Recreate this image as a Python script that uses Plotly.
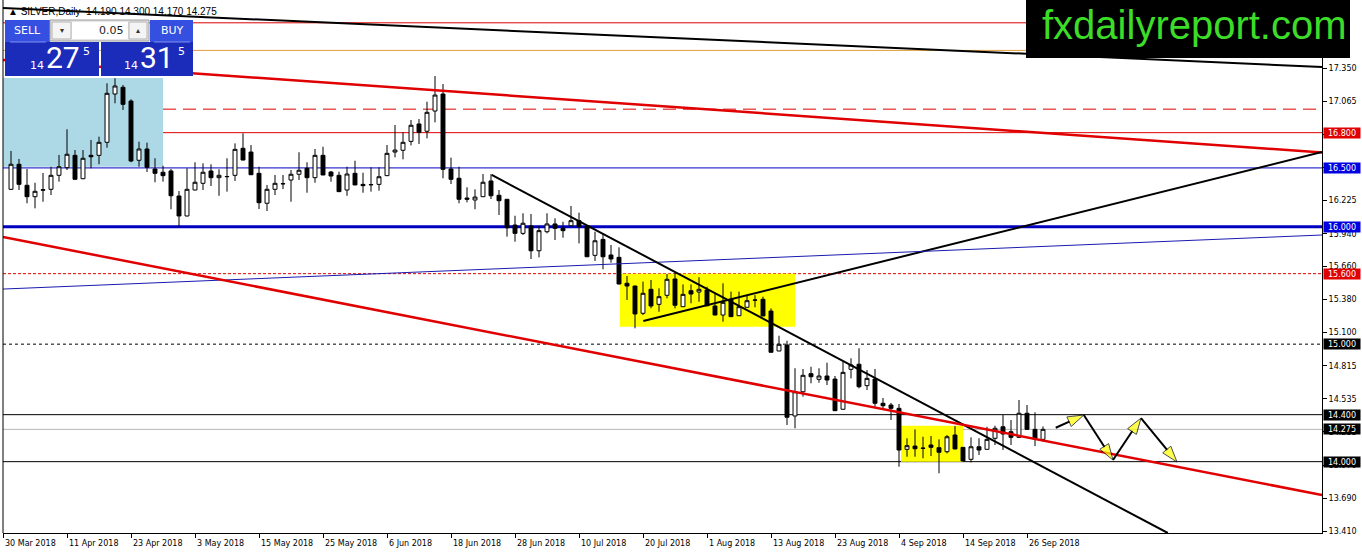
import plotly.graph_objects as go

# daily SILVER candles, one per weekday from 2 Apr 2018 to 28 Sep 2018
opens = [16.318, 16.531, 16.352, 16.255, 16.310, 16.318, 16.437, 16.502, 16.607, 16.408,
         16.607, 16.607, 16.718, 17.129, 17.186, 17.069, 16.565, 16.661, 16.491, 16.463,
         16.474, 16.261, 16.091, 16.312, 16.369, 16.474, 16.417, 16.425, 16.437, 16.667,
         16.635, 16.454, 16.199, 16.318, 16.364, 16.397, 16.446, 16.497, 16.417, 16.607,
         16.465, 16.437, 16.312, 16.454, 16.360, 16.356, 16.360, 16.434, 16.635, 16.650,
         16.726, 16.874, 16.812, 16.984, 17.129, 16.491, 16.412, 16.244, 16.227, 16.255,
         16.389, 16.267, 16.233, 16.014, 15.943, 16.006, 15.795, 15.957, 16.023, 15.986,
         16.008, 16.051, 16.006, 15.756, 15.892, 15.759, 15.739, 15.518, 15.495, 15.263,
         15.467, 15.339, 15.416, 15.555, 15.319, 15.455, 15.444, 15.461, 15.325, 15.248,
         15.382, 15.242, 15.314, 15.374, 15.382, 15.282, 14.942, 14.993, 14.389, 14.595,
         14.749, 14.701, 14.729, 14.703, 14.446, 14.786, 14.829, 14.647, 14.703, 14.497,
         14.482, 14.454, 14.105, 14.133, 14.113, 14.142, 14.119, 14.085, 14.227, 14.122,
         14.020, 14.127, 14.105, 14.199, 14.297, 14.255, 14.207, 14.412, 14.275, 14.190]
highs = [16.644, 16.576, 16.491, 16.374, 16.457, 16.510, 16.610, 16.829, 16.652, 16.652,
         16.738, 16.766, 17.220, 17.263, 17.206, 17.084, 16.723, 16.715, 16.582, 16.519,
         16.491, 16.303, 16.497, 16.548, 16.539, 16.531, 16.488, 16.582, 16.709, 16.795,
         16.695, 16.510, 16.355, 16.440, 16.440, 16.482, 16.633, 16.548, 16.661, 16.680,
         16.474, 16.468, 16.510, 16.561, 16.459, 16.505, 16.505, 16.695, 16.865, 16.803,
         16.908, 16.916, 17.063, 17.282, 17.214, 16.587, 16.510, 16.335, 16.318, 16.448,
         16.448, 16.312, 16.235, 16.093, 16.114, 16.108, 16.008, 16.114, 16.071, 16.042,
         16.176, 16.119, 16.014, 15.957, 15.938, 15.844, 15.824, 15.580, 15.497, 15.532,
         15.546, 15.475, 15.597, 15.608, 15.509, 15.509, 15.569, 15.489, 15.433, 15.518,
         15.447, 15.447, 15.418, 15.418, 15.404, 15.305, 15.072, 15.029, 14.795, 14.789,
         14.808, 14.795, 14.842, 14.729, 14.851, 14.880, 14.965, 14.780, 14.789, 14.542,
         14.500, 14.491, 14.199, 14.275, 14.212, 14.218, 14.190, 14.227, 14.303, 14.125,
         14.207, 14.199, 14.297, 14.306, 14.397, 14.355, 14.525, 14.482, 14.420, 14.300]
lows = [16.312, 16.312, 16.199, 16.156, 16.212, 16.269, 16.383, 16.482, 16.400, 16.405,
        16.497, 16.531, 16.672, 17.050, 16.993, 16.548, 16.510, 16.465, 16.378, 16.383,
        16.148, 16.000, 16.088, 16.310, 16.312, 16.346, 16.263, 16.298, 16.389, 16.565,
        16.440, 16.150, 16.133, 16.269, 16.320, 16.212, 16.397, 16.289, 16.374, 16.438,
        16.383, 16.296, 16.263, 16.353, 16.289, 16.298, 16.306, 16.431, 16.590, 16.573,
        16.692, 16.704, 16.752, 16.888, 16.412, 16.363, 16.199, 16.207, 16.148, 16.252,
        16.235, 16.099, 15.915, 15.872, 15.929, 15.725, 15.739, 15.943, 15.886, 15.906,
        16.006, 15.858, 15.742, 15.708, 15.637, 15.693, 15.510, 15.376, 15.135, 15.248,
        15.305, 15.276, 15.390, 15.305, 15.317, 15.348, 15.361, 15.325, 15.246, 15.191,
        15.232, 15.240, 15.312, 15.314, 15.238, 14.929, 14.940, 14.312, 14.284, 14.553,
        14.667, 14.672, 14.652, 14.432, 14.444, 14.709, 14.624, 14.610, 14.468, 14.454,
        14.355, 13.957, 14.042, 14.042, 14.029, 14.048, 13.901, 14.071, 14.106, 14.004,
        13.994, 14.057, 14.103, 14.142, 14.099, 14.142, 14.205, 14.273, 14.133, 14.170]
closes = [16.531, 16.360, 16.255, 16.301, 16.314, 16.437, 16.510, 16.616, 16.403, 16.582,
          16.595, 16.718, 17.135, 17.197, 17.041, 16.559, 16.661, 16.505, 16.454, 16.434,
          16.263, 16.091, 16.318, 16.378, 16.463, 16.417, 16.437, 16.427, 16.658, 16.567,
          16.442, 16.204, 16.318, 16.369, 16.366, 16.446, 16.480, 16.417, 16.607, 16.440,
          16.431, 16.298, 16.448, 16.355, 16.349, 16.358, 16.425, 16.624, 16.652, 16.718,
          16.863, 16.803, 16.973, 17.120, 16.488, 16.403, 16.233, 16.233, 16.252, 16.378,
          16.263, 16.221, 15.991, 15.943, 16.029, 15.795, 15.966, 16.023, 15.986, 15.966,
          16.051, 16.000, 15.744, 15.880, 15.744, 15.725, 15.512, 15.495, 15.257, 15.433,
          15.325, 15.404, 15.552, 15.331, 15.424, 15.427, 15.467, 15.327, 15.248, 15.356,
          15.234, 15.319, 15.370, 15.376, 15.240, 14.931, 14.999, 14.378, 14.595, 14.735,
          14.723, 14.729, 14.695, 14.434, 14.760, 14.823, 14.638, 14.709, 14.497, 14.476,
          14.454, 14.099, 14.136, 14.110, 14.115, 14.122, 14.080, 14.212, 14.108, 14.006,
          14.127, 14.099, 14.190, 14.284, 14.236, 14.207, 14.412, 14.275, 14.190, 14.275]

# time scale: bar index of each date label (bar -1 is 30 Mar, just off the left edge)
date_ticks = [-1, 7, 15, 23, 31, 39, 47, 55, 63, 71, 79, 87, 95, 103, 111, 119, 127]
date_labels = ["30 Mar 2018", "11 Apr 2018", "23 Apr 2018", "3 May 2018", "15 May 2018",
               "25 May 2018", "6 Jun 2018", "18 Jun 2018", "28 Jun 2018", "10 Jul 2018",
               "20 Jul 2018", "1 Aug 2018", "13 Aug 2018", "23 Aug 2018", "4 Sep 2018",
               "14 Sep 2018", "26 Sep 2018"]

# price scale
price_ticks = [17.350, 17.065, 16.785, 16.505, 16.225, 15.940, 15.660, 15.380, 15.100,
               14.815, 14.535, 14.255, 13.970, 13.690, 13.410]

# horizontal levels and the ones that carry a price tag on the scale
levels = [17.735, 17.500, 17.000, 16.800, 16.500, 16.000, 15.600, 15.000, 14.400, 14.275, 14.000]
tagged_levels = [16.800, 16.500, 16.000, 15.600, 15.000, 14.400, 14.275, 14.000]

# trend lines: (bar, price) -> (bar, price)
trend_start_bars = [-1.375, -1, 79.04, -1, 60.09, -1]
trend_start_prices = [17.861, 17.419, 15.197, 15.469, 16.440, 15.912]
trend_end_bars = [163.875, 163.875, 163.875, 163.875, 144.6, 163.875]
trend_end_prices = [17.359, 16.631, 16.635, 15.929, 13.393, 13.716]

# highlighted zones: bar from/to, price low/high
zone_bar_from = [-1, 76.1, 111.25]
zone_bar_to = [19, 98, 119]
zone_price_low = [16.510, 15.149, 14.000]
zone_price_high = [17.265, 15.600, 14.306]

# projected zig-zag path drawn with arrows
arrow_bars = [130.59, 134.1, 137.75, 141.25, 145.75]
arrow_prices = [14.289, 14.397, 14.014, 14.371, 13.997]

W, H = 1362, 554
L_M, R_M, T_M, B_M = 3, 40, 0, 21
PW = W - L_M - R_M
PH = H - T_M - B_M
FONT = "DejaVu Sans"


# screen pixel -> paper coordinate
def px(x):
    return (x - L_M) / PW


def py(y):
    return 1 - (y - T_M) / PH


fig = go.Figure()

fig.add_trace(go.Candlestick(x=list(range(len(closes))), open=opens, high=highs, low=lows, close=closes,
                             increasing=dict(line=dict(color="black", width=1), fillcolor="white"),
                             decreasing=dict(line=dict(color="black", width=1), fillcolor="black"),
                             whiskerwidth=0, showlegend=False, hoverinfo="skip"))

trend_styles = [("black", 2), ("#E00000", 2.5), ("black", 2), ("#1A1AB0", 1), ("black", 2), ("#E00000", 2.5)]
for i, (col, wd) in enumerate(trend_styles):
    fig.add_trace(go.Scatter(x=[trend_start_bars[i], trend_end_bars[i]],
                             y=[trend_start_prices[i], trend_end_prices[i]],
                             mode="lines", line=dict(color=col, width=wd),
                             hoverinfo="skip", showlegend=False))

fig.add_trace(go.Scatter(x=arrow_bars, y=arrow_prices, mode="lines+markers",
                         line=dict(color="black", width=2),
                         marker=dict(symbol="arrow", size=[0, 17, 17, 17, 17], color="#FFFF00",
                                     angleref="previous", line=dict(color="black", width=1)),
                         hoverinfo="skip", showlegend=False))

shapes = []
zone_colors = ["#ADD8E6", "#FFFF00", "#FFFF00"]
for i in range(len(zone_colors)):
    shapes.append(dict(type="rect", xref="x", yref="y", x0=zone_bar_from[i], x1=zone_bar_to[i],
                       y0=zone_price_low[i], y1=zone_price_high[i], fillcolor=zone_colors[i],
                       line=dict(width=0), layer="below"))

level_styles = {
    17.735: ("#E00000", 1, "solid"),
    17.500: ("#E0A040", 1, "solid"),
    17.000: ("#E00000", 1, "13px,7px"),
    16.800: ("#E00000", 1, "solid"),
    16.500: ("#0000C0", 1, "solid"),
    16.000: ("#0000C0", 3, "solid"),
    15.600: ("#E00000", 1, "3px,2px"),
    15.000: ("black", 1, "3px,3px"),
    14.400: ("black", 1, "solid"),
    14.275: ("#B8B8B8", 1, "solid"),
    14.000: ("black", 1, "solid"),
}
for lv in levels:
    col, wd, dash = level_styles[lv]
    shapes.append(dict(type="line", xref="paper", yref="y", x0=0, x1=1, y0=lv, y1=lv,
                       line=dict(color=col, width=wd, dash=dash), layer="below"))

# left frame line
shapes.append(dict(type="line", xref="paper", yref="paper", x0=0, x1=0, y0=0, y1=1,
                   line=dict(color="black", width=1), layer="above"))


def box(x0, y0, x1, y1, fill, line_col=None):
    shapes.append(dict(type="rect", xref="paper", yref="paper", x0=px(x0), x1=px(x1),
                       y0=py(y1), y1=py(y0), fillcolor=fill,
                       line=dict(width=1 if line_col else 0, color=line_col or fill), layer="above"))


# one-click trading panel
box(5, 20, 50, 42, "#3550E0")
box(5, 42, 99, 76, "#1B2BBA")
box(150, 20, 193, 42, "#3550E0")
box(101, 42, 193, 76, "#1B2BBA")
box(50, 20, 149, 41, "#E6E6E6", "#9A9A9A")
box(52, 22, 71, 39, "#F4F4F4", "#B4B4B4")
box(72, 22, 128, 39, "white")
box(129, 22, 147, 39, "#F4F4F4", "#B4B4B4")
for x0, x1 in [(10, 46), (154, 190)]:
    shapes.append(dict(type="line", xref="paper", yref="paper", x0=px(x0), x1=px(x1),
                       y0=py(42), y1=py(42), line=dict(color="#8090F0", width=1), layer="above"))

# logo block
box(1026, 0, 1350, 58, "black")

annotations = []


def text(x, y, s, size, color="black", family=FONT, anchor="center"):
    annotations.append(dict(xref="paper", yref="paper", x=px(x), y=py(y), text=s, showarrow=False,
                            xanchor=anchor, yanchor="middle",
                            font=dict(size=size, color=color, family=family)))


text(6, 11, "▲ SILVER,Daily  14.190 14.300 14.170 14.275", 10, family="Liberation Sans", anchor="left")
text(27, 31, "SELL", 11, "white")
text(172, 31, "BUY", 11, "white")
text(62, 31, "▾", 8, "#333333")
text(138, 31, "▴", 8, "#333333")
text(126, 31, "0.05", 11, "#222222", anchor="right")
text(37, 66, "14", 11, "white")
text(63, 58, "27", 30, "white", family="Roboto")
text(86, 51, "5", 11, "white")
text(131, 66, "14", 11, "white")
text(157, 58, "31", 30, "white", family="Roboto")
text(181, 51, "5", 11, "white")
text(1194, 25, "fxdailyreport.com", 40, "#3CDC28", family="Liberation Sans")

# date labels start at their tick, MT4 style
for b, lab in zip(date_ticks, date_labels):
    annotations.append(dict(xref="x", yref="paper", x=b, y=py(543), text=lab, showarrow=False,
                            xanchor="left", yanchor="middle", xshift=0,
                            font=dict(size=8, color="black", family=FONT)))

tag_colors = {16.800: "#E00000", 16.500: "#0000E0", 16.000: "#0000E0", 15.600: "#E00000",
              15.000: "black", 14.400: "black", 14.275: "black", 14.000: "black"}
for lv in tagged_levels:
    annotations.append(dict(xref="paper", yref="y", x=1, y=lv, text="%.3f" % lv, showarrow=False,
                            xanchor="left", yanchor="middle", xshift=1, width=36, height=10,
                            bgcolor=tag_colors[lv], borderpad=0,
                            font=dict(size=8, color="white", family=FONT)))

fig.update_layout(width=W, height=H, margin=dict(l=L_M, r=R_M, t=T_M, b=B_M),
                  plot_bgcolor="white", paper_bgcolor="white",
                  shapes=shapes, annotations=annotations, showlegend=False)
fig.update_xaxes(range=[-1, 163.875], rangeslider=dict(visible=False), showgrid=False, zeroline=False,
                 showline=True, linecolor="black", linewidth=1, ticks="outside", ticklen=4,
                 tickcolor="black", tickvals=date_ticks, showticklabels=False)
fig.update_yaxes(range=[13.393, 17.929], side="right", showgrid=False, zeroline=False,
                 showline=True, linecolor="black", linewidth=1, ticks="outside", ticklen=4,
                 tickcolor="black", tickvals=price_ticks, ticktext=["%.3f" % t for t in price_ticks],
                 tickfont=dict(size=8, color="black", family=FONT))

# the page's default body margin would push the chart 8px down and right
fig.write_html("out.html", config={"displayModeBar": False},
               post_script="document.body.style.margin='0';document.body.style.overflow='hidden';")
